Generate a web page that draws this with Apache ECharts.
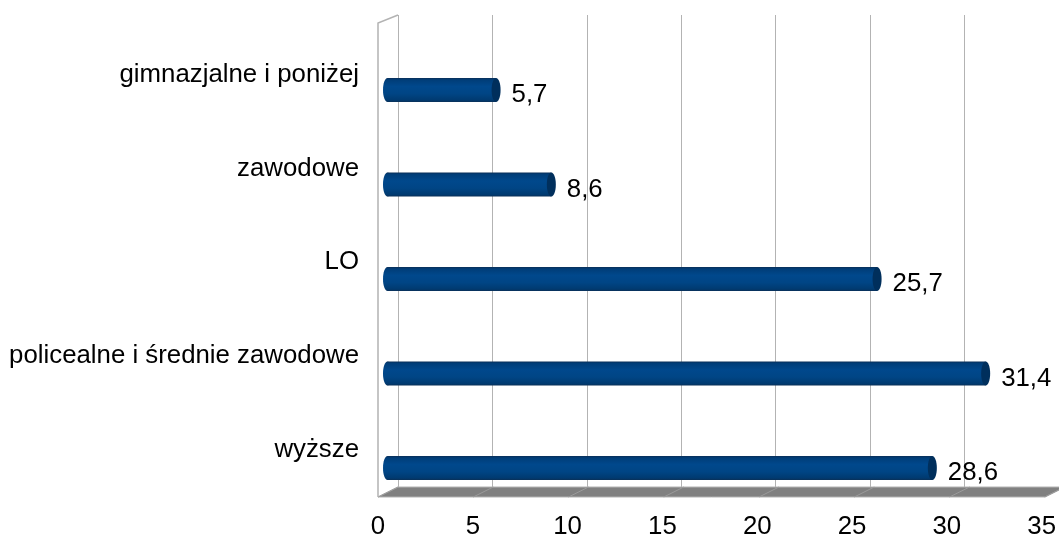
<!DOCTYPE html>
<html>
<head>
<meta charset="utf-8">
<script src="https://cdn.jsdelivr.net/npm/echarts@6/dist/echarts.min.js"></script>
<style>html,body{margin:0;padding:0;background:#fff}#c{width:1059px;height:540px}</style>
</head>
<body>
<div id="c"></div>
<script>
const categories = ['gimnazjalne i poniżej', 'zawodowe', 'LO', 'policealne i średnie zawodowe', 'wyższe'];
const values = [5.7, 8.6, 25.7, 31.4, 28.6];
const axisMin = 0, axisMax = 35, axisStep = 5;

const FONT = '"Liberation Sans", Arial, sans-serif';
const FS = 25.8;
const W = 666.75;

const chart = echarts.init(document.getElementById('c'), null, {renderer: 'canvas'});

const bodyGrad = {type: 'linear', x: 0, y: 0, x2: 0, y2: 1, colorStops: [
  {offset: 0, color: '#0a2f58'},
  {offset: 0.08, color: '#003d78'},
  {offset: 0.35, color: '#00488c'},
  {offset: 0.65, color: '#004585'},
  {offset: 0.92, color: '#003a70'},
  {offset: 1, color: '#0a3058'}
]};

function renderItem(params, api) {
  const v = api.value(0), c = api.value(1);
  const p0 = api.coord([0, c]);
  const p1 = api.coord([v, c]);
  const h = 24, rx = 4.5;
  const txt = String(v).replace('.', ',');
  return {type: 'group', children: [
    {type: 'ellipse', shape: {cx: p0[0], cy: p0[1], rx: rx, ry: h / 2}, style: {fill: bodyGrad}},
    {type: 'rect', shape: {x: p0[0], y: p0[1] - h / 2, width: p1[0] - p0[0], height: h}, style: {fill: bodyGrad}},
    {type: 'ellipse', shape: {cx: p1[0], cy: p1[1], rx: rx, ry: h / 2}, style: {fill: '#002f5c'}},
    {type: 'text', style: {text: txt, x: p1[0] + rx + 11, y: p1[1] + 5, verticalAlign: 'middle', align: 'left', fill: '#000', fontSize: FS, fontFamily: FONT}}
  ]};
}

// floor and walls (decoration)
const graphics = [];
graphics.push({type: 'polygon', z: 5, shape: {points: [[378, 497], [398, 487], [1065, 487], [1045, 497]]}, style: {fill: '#808080', stroke: '#b3b3b3', lineWidth: 1}});
for (let v = axisMin; v <= axisMax; v += axisStep) {
  const x = 378 + v * W / (axisMax - axisMin);
  graphics.push({type: 'line', z: 6, shape: {x1: x, y1: 497, x2: x + 20, y2: 487}, style: {stroke: '#9a9a9a', lineWidth: 1}});
}
graphics.push({type: 'polyline', z: 6, shape: {points: [[378, 497], [378, 23], [398, 15]]}, style: {stroke: '#b3b3b3', lineWidth: 1.5, fill: null}});

chart.setOption({
  animation: false,
  backgroundColor: '#fff',
  graphic: graphics,
  grid: [
    {left: 398, top: 15, width: W, height: 472},
    {left: 378, top: 23, width: W, height: 474},
    {left: 387.5, top: 42.75, width: W, height: 472.5},
    {left: 378, top: 28, width: W, height: 468.75}
  ],
  xAxis: [
    {gridIndex: 0, type: 'value', min: axisMin, max: axisMax, interval: axisStep,
     axisLine: {show: false}, axisTick: {show: false}, axisLabel: {show: false},
     splitLine: {show: true, lineStyle: {color: '#b3b3b3', width: 1}}},
    {gridIndex: 1, type: 'value', min: axisMin, max: axisMax, interval: axisStep,
     axisLine: {show: false}, axisTick: {show: false}, splitLine: {show: false},
     axisLabel: {show: true, margin: 26, color: '#000', fontSize: FS, fontFamily: FONT}},
    {gridIndex: 2, type: 'value', min: axisMin, max: axisMax, show: false},
    {gridIndex: 3, type: 'value', min: axisMin, max: axisMax, show: false}
  ],
  yAxis: [
    {gridIndex: 0, type: 'category', data: categories, show: false},
    {gridIndex: 1, type: 'category', data: categories, show: false},
    {gridIndex: 2, type: 'category', data: categories, inverse: true, show: false},
    {gridIndex: 3, type: 'category', data: categories, inverse: true,
     axisLine: {show: false}, axisTick: {show: false}, splitLine: {show: false},
     axisLabel: {show: true, margin: 19, color: '#000', fontSize: FS, fontFamily: FONT}}
  ],
  series: [{
    type: 'custom', xAxisIndex: 2, yAxisIndex: 2, z: 10,
    renderItem: renderItem,
    encode: {x: 0, y: 1},
    data: values.map((v, i) => [v, i])
  }]
});
</script>
</body>
</html>
